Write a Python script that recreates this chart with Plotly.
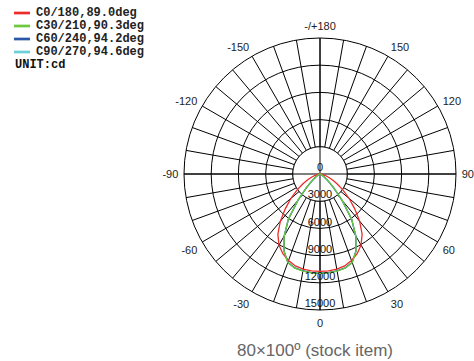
import plotly.graph_objects as go

# ---- data ----
angles_half = [0, 5, 10, 15, 20, 25, 30, 35, 40, 45, 50, 55, 60, 65, 70, 75, 80, 85, 90]
c0_180 = [10750, 10730, 10650, 10500, 10150, 9700, 9050, 8100, 6800, 5400, 4200, 3100, 2200, 1500, 950, 550, 250, 80, 0]
c30_210 = [10970, 10950, 10880, 10750, 10400, 9400, 7900, 6100, 3800, 2100, 1100, 550, 250, 100, 40, 10, 0, 0, 0]
c60_240 = [10950, 10930, 10860, 10730, 10380, 9380, 7880, 6080, 3780, 2080, 1090, 540, 240, 95, 35, 8, 0, 0, 0]
c90_270 = [10940, 10920, 10850, 10720, 10370, 9370, 7870, 6070, 3770, 2070, 1080, 530, 235, 90, 30, 5, 0, 0, 0]
series_names = ["C0/180,89.0deg", "C30/210,90.3deg", "C60/240,94.2deg", "C90/270,94.6deg"]
series_colors = ["#ee2b2b", "#6cc83c", "#2a57a8", "#6cd0d8"]
radial_ticks = [0, 3000, 6000, 9000, 12000, 15000]
angle_tickvals = list(range(0, 360, 10))
angle_labels = {0: "0", 30: "30", 60: "60", 90: "90", 120: "120", 150: "150", 180: "-/+180",
                210: "-150", 240: "-120", 270: "-90", 300: "-60", 330: "-30"}
unit_text = "UNIT:cd"
subtitle = "80\u00d7100\u00ba (stock item)"

W, H = 474, 361
cx, cy, R = 320, 174, 136

def full_curve(vals):
    th = [-a for a in reversed(angles_half)] + angles_half[1:]
    rr = list(reversed(vals)) + vals[1:]
    return th, rr

fig = go.Figure()

# white inner disk (spokes start at 3000 ring)
disk_th = list(range(0, 361, 2))
fig.add_trace(go.Scatterpolar(theta=disk_th, r=[radial_ticks[1]] * len(disk_th), mode="lines",
                              fill="toself", fillcolor="white",
                              line=dict(color="black", width=1), hoverinfo="skip", showlegend=False))
# cross lines through center
fig.add_trace(go.Scatterpolar(theta=[90, 270, None, 0, 180],
                              r=[radial_ticks[-1], radial_ticks[-1], None, radial_ticks[-1], radial_ticks[-1]],
                              mode="lines", line=dict(color="black", width=1),
                              hoverinfo="skip", showlegend=False))

data_series = [c0_180, c30_210, c60_240, c90_270]
draw_order = [3, 2, 0, 1]
for i in draw_order:
    th, rr = full_curve(data_series[i])
    fig.add_trace(go.Scatterpolar(theta=th, r=rr, mode="lines", name=series_names[i],
                                  line=dict(color=series_colors[i], width=1.3), showlegend=False))

# radial labels along 0 direction
fig.add_trace(go.Scatterpolar(theta=[0] * len(radial_ticks), r=radial_ticks, mode="text",
                              text=[str(v) for v in radial_ticks], textposition="top center",
                              textfont=dict(family="Liberation Sans, Arial", size=11, color="#111111"),
                              hoverinfo="skip", showlegend=False))

fig.update_layout(
    width=W, height=H,
    margin=dict(l=0, r=0, t=0, b=0),
    paper_bgcolor="white",
    showlegend=False,
    polar=dict(
        domain=dict(x=[(cx - R) / W, (cx + R) / W], y=[(H - cy - R) / H, (H - cy + R) / H]),
        bgcolor="white",
        radialaxis=dict(range=[0, radial_ticks[-1]], tickvals=radial_ticks, showticklabels=False,
                        ticks="", showline=False, gridcolor="black", gridwidth=1, angle=-90),
        angularaxis=dict(rotation=-90, direction="counterclockwise",
                         tickvals=angle_tickvals,
                         ticktext=[angle_labels.get(v, "") for v in angle_tickvals],
                         ticks="outside", ticklen=3, tickcolor="rgba(0,0,0,0)",
                         showline=True, linecolor="black", linewidth=1,
                         gridcolor="black", gridwidth=1,
                         tickfont=dict(family="Liberation Sans, Arial", size=11, color="#222")),
    ),
)

# custom legend
row_y = [13, 26, 39, 52]
for i, name in enumerate(series_names):
    y = 1 - row_y[i] / H
    fig.add_shape(type="line", xref="paper", yref="paper", x0=14 / W, x1=30 / W, y0=y, y1=y,
                  line=dict(color=series_colors[i], width=2.7))
    fig.add_annotation(xref="paper", yref="paper", x=34 / W, y=y, xanchor="left", yanchor="middle",
                       text="<b>" + name + "</b>", showarrow=False,
                       font=dict(family="Liberation Mono, Courier New", size=12, color="#222"))
fig.add_annotation(xref="paper", yref="paper", x=13 / W, y=1 - 65 / H, xanchor="left", yanchor="middle",
                   text="<b>" + unit_text + "</b>", showarrow=False,
                   font=dict(family="Liberation Mono, Courier New", size=12, color="#111"))
fig.add_annotation(xref="paper", yref="paper", x=315 / W, y=1 - 350 / H, xanchor="center", yanchor="middle",
                   text=subtitle, showarrow=False,
                   font=dict(family="Liberation Sans, Arial", size=17, color="#666"))

fig.write_html("out.html", config={"displayModeBar": False},
               post_script="document.body.style.margin='0';document.body.style.padding='0';")
